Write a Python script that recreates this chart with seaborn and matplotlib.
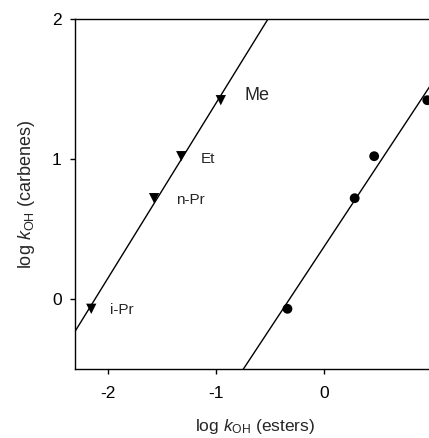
import numpy as np
import pandas as pd
import matplotlib
matplotlib.use("Agg")
import matplotlib.pyplot as plt
import seaborn as sns

# data
substituents = ["i-Pr", "n-Pr", "Et", "Me"]
log_koh_carbenes = [-0.07, 0.72, 1.02, 1.42]
log_koh_esters_tri = [-2.15, -1.57, -1.32, -0.955]
log_koh_esters_circ = [-0.34, 0.28, 0.46, 0.95]
label_sizes = [11, 11, 11, 13]
label_offsets = [(19, -1), (22, -2), (20, -3), (24, 5)]

xticks = [-2, -1, 0]
yticks = [0, 1, 2]


def main():
    sns.set_theme(style="ticks")
    plt.rcParams["font.family"] = ["Liberation Sans", "DejaVu Sans"]
    plt.rcParams["mathtext.fontset"] = "custom"
    plt.rcParams["mathtext.rm"] = "Liberation Sans"
    plt.rcParams["mathtext.it"] = "Liberation Sans:italic"
    plt.rcParams["axes.unicode_minus"] = False

    df_tri = pd.DataFrame({"x": log_koh_esters_tri, "y": log_koh_carbenes,
                           "name": substituents})
    df_circ = pd.DataFrame({"x": log_koh_esters_circ, "y": log_koh_carbenes})

    fig = plt.figure(figsize=(4.29, 4.38), dpi=100)
    # 1 unit on x is ~108 px, axes runs past the right edge like the reference
    x0, x1 = -2.30, 1.02
    w = (x1 - x0) * 108.4 / 429
    ax = fig.add_axes([75 / 429, 69 / 438, w, 350 / 438])
    ax.set_xlim(x0, x1)
    ax.set_ylim(-0.5, 2)

    # fitted lines, extended to the axis limits
    line_kws = dict(color="black", linewidth=1.0)
    sns.regplot(data=df_tri, x="x", y="y", ax=ax, scatter=False, ci=None,
                truncate=False, line_kws=line_kws)
    sns.regplot(data=df_circ, x="x", y="y", ax=ax, scatter=False, ci=None,
                truncate=False, line_kws=line_kws)

    sns.scatterplot(data=df_tri, x="x", y="y", ax=ax, marker="v", s=55,
                    color="black", edgecolor="none", zorder=3)
    sns.scatterplot(data=df_circ, x="x", y="y", ax=ax, marker="o", s=50,
                    color="black", edgecolor="none", zorder=3)

    for i, row in df_tri.iterrows():
        ax.annotate(row["name"], (row["x"], row["y"]),
                    xytext=label_offsets[i], textcoords="offset pixels",
                    ha="left", va="center", fontsize=label_sizes[i])

    ax.set_xlim(x0, x1)
    ax.set_ylim(-0.5, 2)
    ax.set_xticks(xticks)
    ax.set_yticks(yticks)
    ax.tick_params(direction="out", length=3.5, width=1.0, labelsize=12.5,
                   color="black", labelcolor="black")
    ax.tick_params(axis="x", pad=9)
    ax.tick_params(axis="y", pad=6)

    for side in ["left", "bottom", "top"]:
        ax.spines[side].set_visible(True)
        ax.spines[side].set_linewidth(1.0)
        ax.spines[side].set_color("black")
    ax.spines["right"].set_visible(False)

    ax.set_xlabel(r"log $\mathit{k}_{\mathrm{OH}}$ (esters)", fontsize=12.5,
                  labelpad=11)
    ax.set_ylabel(r"log $\mathit{k}_{\mathrm{OH}}$ (carbenes)", fontsize=13,
                  labelpad=11)

    fig.savefig("out.png", dpi=100)


if __name__ == "__main__":
    main()
